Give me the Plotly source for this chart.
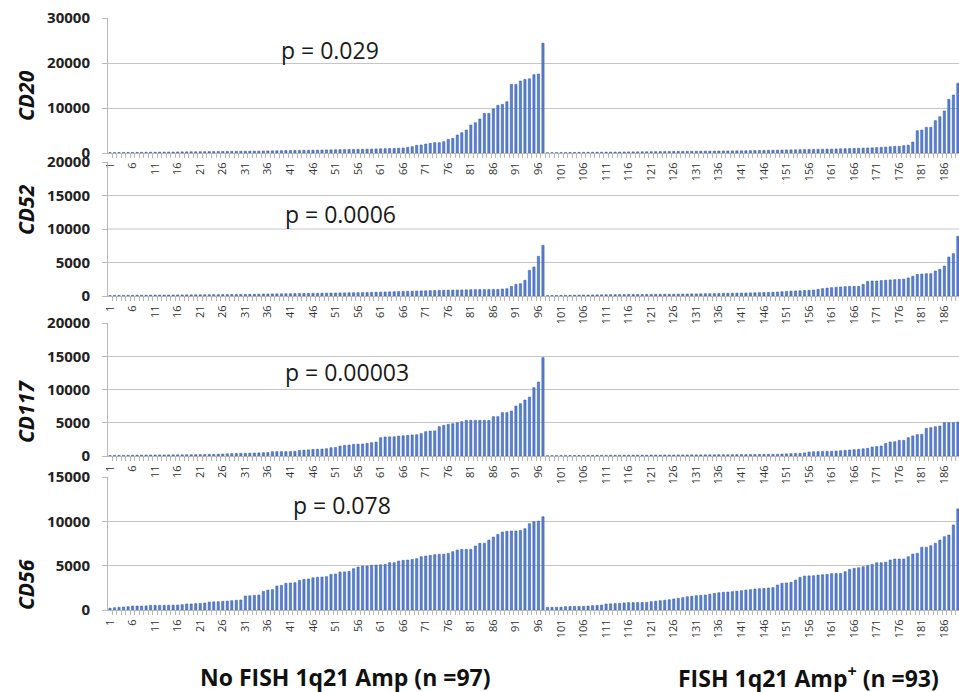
import plotly.graph_objects as go

# ---------------- data ----------------
patients = list(range(1, 191))                 # 97 no-amp + 93 amp+
tick_pos = list(range(1, 190, 5))              # 1, 6, ..., 186
tick_labels = [str(v) for v in tick_pos]

cd20_no_amp = [80, 90, 100, 110, 120, 130, 140, 150, 160, 170,
               180, 190, 200, 210, 220, 240, 250, 260, 270, 280,
               290, 300, 310, 320, 330, 340, 350, 360, 370, 380,
               390, 400, 410, 420, 440, 460, 480, 500, 520, 540,
               560, 570, 580, 600, 610, 620, 640, 660, 680, 700,
               720, 740, 760, 780, 800, 820, 840, 860, 880, 900,
               930, 960, 990, 1020, 1060, 1110, 1260, 1410, 1700, 1780,
               2000, 2150, 2300, 2300, 2520, 3040, 3260, 4000, 4520, 5110,
               6220, 6730, 7560, 8800, 8800, 9800, 10600, 10800, 11400, 15250,
               15250, 16000, 16350, 16500, 17400, 17550, 24400]
cd20_amp = [60, 70, 80, 90, 100, 110, 120, 130, 140, 150,
            160, 170, 180, 190, 200, 210, 220, 230, 240, 250,
            260, 270, 280, 290, 300, 310, 320, 330, 340, 350,
            360, 370, 380, 390, 400, 410, 420, 430, 440, 450,
            460, 470, 480, 490, 500, 520, 540, 560, 580, 600,
            620, 640, 660, 680, 700, 720, 740, 760, 780, 800,
            820, 840, 860, 880, 900, 930, 960, 990, 1020, 1050,
            1080, 1110, 1150, 1200, 1260, 1320, 1400, 1480, 1480, 1630,
            1750, 2440, 4960, 5110, 5700, 5700, 7190, 8070, 9330, 11930,
            12890, 15500, 17800]

cd52_no_amp = [60, 70, 80, 90, 100, 100, 110, 120, 120, 130,
               130, 140, 140, 150, 150, 160, 160, 170, 170, 180,
               180, 190, 190, 200, 200, 210, 210, 220, 220, 230,
               240, 250, 260, 270, 290, 300, 310, 320, 330, 340,
               350, 360, 370, 380, 390, 400, 410, 420, 430, 440,
               450, 460, 470, 480, 490, 500, 510, 520, 540, 560,
               580, 600, 620, 640, 660, 680, 700, 720, 740, 760,
               780, 800, 820, 840, 860, 870, 880, 890, 900, 920,
               940, 950, 960, 960, 970, 970, 980, 1040, 1090, 1440,
               1740, 1840, 2340, 3830, 4330, 5920, 7560]
cd52_amp = [60, 70, 80, 90, 100, 110, 120, 130, 140, 150,
            160, 170, 180, 190, 200, 200, 210, 210, 220, 220,
            230, 230, 240, 240, 250, 250, 260, 260, 270, 280,
            290, 300, 310, 320, 330, 340, 350, 360, 380, 400,
            410, 420, 430, 440, 450, 460, 480, 500, 520, 540,
            560, 600, 640, 680, 720, 750, 780, 820, 850, 900,
            1000, 1100, 1190, 1250, 1300, 1340, 1400, 1440, 1440, 1440,
            1740, 2190, 2240, 2240, 2300, 2350, 2400, 2440, 2480, 2520,
            2700, 2940, 3230, 3280, 3330, 3330, 3730, 3980, 4480, 5820,
            6320, 8900, 9500]

cd117_no_amp = [60, 70, 80, 90, 100, 110, 120, 130, 140, 150,
                150, 160, 160, 170, 170, 180, 180, 190, 190, 200,
                210, 220, 240, 250, 270, 290, 330, 360, 380, 400,
                410, 430, 450, 470, 500, 520, 650, 650, 660, 660,
                670, 700, 850, 880, 920, 1000, 1020, 1050, 1100, 1250,
                1280, 1500, 1600, 1650, 1750, 1780, 1800, 1900, 2000, 2100,
                2760, 2860, 2880, 2900, 3000, 3050, 3100, 3160, 3200, 3360,
                3660, 3760, 3780, 4410, 4610, 4760, 4860, 5010, 5160, 5360,
                5360, 5360, 5360, 5360, 5360, 5920, 5920, 6520, 6520, 6770,
                7520, 7870, 8420, 8870, 10280, 11130, 14790]
cd117_amp = [40, 50, 50, 60, 60, 70, 70, 80, 80, 90,
             90, 100, 100, 100, 110, 110, 110, 120, 120, 120,
             130, 130, 130, 140, 140, 140, 150, 150, 150, 160,
             160, 160, 170, 170, 170, 180, 180, 180, 190, 190,
             190, 200, 200, 210, 210, 220, 220, 230, 240, 250,
             230, 250, 290, 320, 350, 380, 400, 470, 600, 650,
             660, 680, 690, 700, 740, 790, 850, 900, 950, 1000,
             1080, 1150, 1350, 1420, 1500, 1900, 2100, 2150, 2350, 2350,
             2760, 3010, 3210, 3260, 4160, 4260, 4410, 4510, 5010, 5010,
             5010, 5110, 5200]

cd56_no_amp = [200, 260, 300, 340, 380, 450, 450, 450, 460, 530,
               530, 530, 530, 540, 550, 560, 600, 680, 680, 720,
               750, 790, 900, 920, 940, 980, 1000, 1050, 1090, 1130,
               1580, 1600, 1650, 1690, 2100, 2250, 2300, 2710, 2780, 3010,
               3050, 3080, 3340, 3460, 3500, 3640, 3700, 3720, 3760, 4020,
               4060, 4280, 4300, 4360, 4660, 4850, 4960, 4960, 5040, 5070,
               5100, 5150, 5340, 5340, 5520, 5600, 5640, 5700, 5790, 6010,
               6090, 6160, 6240, 6280, 6300, 6390, 6580, 6760, 6840, 6840,
               6840, 7220, 7520, 7520, 7890, 8230, 8530, 8790, 8870, 8910,
               8910, 8980, 9170, 9730, 9960, 10030, 10520]
cd56_amp = [300, 300, 310, 320, 380, 390, 400, 400, 420, 450,
            490, 520, 560, 680, 700, 720, 750, 800, 830, 830,
            840, 850, 860, 940, 1000, 1050, 1100, 1160, 1250, 1310,
            1390, 1500, 1550, 1620, 1650, 1690, 1780, 1880, 1950, 2000,
            2030, 2070, 2120, 2180, 2250, 2300, 2370, 2400, 2440, 2480,
            2520, 2820, 3010, 3050, 3120, 3380, 3680, 3830, 3850, 3870,
            3940, 3980, 4020, 4100, 4120, 4130, 4320, 4580, 4700, 4770,
            4880, 5000, 5150, 5330, 5330, 5400, 5640, 5750, 5750, 5750,
            6010, 6310, 6390, 7070, 7070, 7250, 7520, 7890, 8270, 8460,
            9590, 11400, 12000]

markers = ["CD20", "CD52", "CD117", "CD56"]
p_values = ["p = 0.029", "p = 0.0006", "p = 0.00003", "p = 0.078"]
y_ticks = [[0, 10000, 20000, 30000],
           [0, 5000, 10000, 15000, 20000],
           [0, 5000, 10000, 15000, 20000],
           [0, 5000, 10000, 15000]]
group_labels = ["No FISH 1q21 Amp (n =97)", "FISH 1q21 Amp<sup>+</sup> (n =93)"]
series = [(cd20_no_amp, cd20_amp), (cd52_no_amp, cd52_amp),
          (cd117_no_amp, cd117_amp), (cd56_no_amp, cd56_amp)]

# ---------------- layout geometry (pixels) ----------------
W, H = 959, 692
PLOT_LEFT = 108
panel_px = [(18, 153), (162, 296), (323, 456), (477, 610)]   # (top, bottom)
title_y_px = [96, 210, 412, 585]
p_xy_px = [(330, 50), (340, 214), (347, 372), (342, 505)]
hide_top_grid = [False, True, False, False]

FONT = "Open Sans"
GRID = "#c6c6c6"
AXIS = "#b8b8b8"
BAR_FILL = "#5a82d2"
BAR_EDGE = "#2d52a3"

def fx(p):
    return p / W

def fy(p):
    return 1 - p / H

fig = go.Figure()
shapes = []
annotations = []

for i, (name, (left, right)) in enumerate(zip(markers, series), start=1):
    xa = "x" if i == 1 else f"x{i}"
    ya = "y" if i == 1 else f"y{i}"
    values = left + right
    fig.add_trace(go.Bar(
        x=patients, y=values, xaxis=xa, yaxis=ya,
        marker=dict(color=BAR_FILL, line=dict(color=BAR_EDGE, width=0.5)),
        hoverinfo="x+y", showlegend=False,
    ))
    top, bottom = panel_px[i - 1]
    ticks = y_ticks[i - 1]
    xkey = "xaxis" if i == 1 else f"xaxis{i}"
    ykey = "yaxis" if i == 1 else f"yaxis{i}"
    fig.layout[xkey] = dict(
        domain=[fx(PLOT_LEFT), 1], anchor=ya, automargin=False,
        range=[0.55, 189.25],
        tickmode="array", tickvals=tick_pos, ticktext=tick_labels,
        tickangle=-90, ticks="", ticklabelstandoff=4,
        ticklabeloverflow="allow",
        tickfont=dict(family=FONT, size=11, color="#333333"),
        minor=dict(tick0=0.5, dtick=1, ticks="outside", ticklen=4,
                   tickcolor=AXIS, tickwidth=1),
        showline=True, linecolor=AXIS, linewidth=1,
        showgrid=False, zeroline=False, fixedrange=True,
    )
    fig.layout[ykey] = dict(
        domain=[fy(bottom), fy(top)], anchor=xa, automargin=False,
        range=[0, ticks[-1]],
        tickmode="array", tickvals=ticks, ticktext=[str(t) for t in ticks],
        ticks="outside", ticklen=5, tickcolor=AXIS, ticklabelstandoff=9,
        ticklabeloverflow="allow",
        tickfont=dict(family=FONT, size=15, color="#222222", weight="bold"),
        showline=True, linecolor=AXIS, linewidth=1,
        showgrid=not hide_top_grid[i - 1], gridcolor=GRID, gridwidth=1,
        zeroline=False, fixedrange=True,
    )
    if hide_top_grid[i - 1]:
        for t in ticks[1:-1]:
            shapes.append(dict(type="line", xref=f"{xa} domain", yref=ya,
                               x0=0, x1=1, y0=t, y1=t, layer="below",
                               line=dict(color=GRID, width=1)))
    # y title
    annotations.append(dict(
        text=f"<b><i>{name}</i></b>", x=fx(26), y=fy(title_y_px[i - 1]),
        xref="paper", yref="paper", xanchor="center", yanchor="middle",
        textangle=-90, showarrow=False,
        font=dict(family=FONT, size=21, color="#111111"),
    ))
    # p value
    px_, py_ = p_xy_px[i - 1]
    annotations.append(dict(
        text=p_values[i - 1], x=fx(px_), y=fy(py_),
        xref="paper", yref="paper", xanchor="center", yanchor="middle",
        showarrow=False,
        font=dict(family=FONT, size=23, color="#1a1a1a"),
    ))

annotations.append(dict(text=f"<b>{group_labels[0]}</b>", x=fx(345), y=fy(677),
                        xref="paper", yref="paper", xanchor="center", yanchor="middle",
                        showarrow=False, font=dict(family=FONT, size=23, color="#111111")))
annotations.append(dict(text=f"<b>{group_labels[1]}</b>", x=fx(808), y=fy(677),
                        xref="paper", yref="paper", xanchor="center", yanchor="middle",
                        showarrow=False, font=dict(family=FONT, size=23, color="#111111")))

fig.update_layout(
    width=W, height=H,
    margin=dict(l=0, r=0, t=0, b=0, autoexpand=False),
    paper_bgcolor="white", plot_bgcolor="white",
    bargap=0.5, showlegend=False,
    shapes=shapes, annotations=annotations,
    font=dict(family=FONT),
)

fig.write_html(
    "out.html",
    config={"displayModeBar": False},
    post_script="document.body.style.margin='0';document.body.style.overflow='hidden';",
)
